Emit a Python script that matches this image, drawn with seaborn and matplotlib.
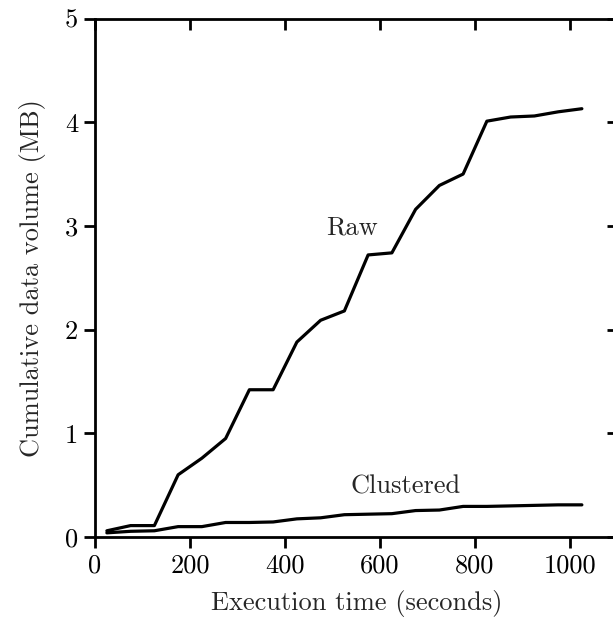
import matplotlib
matplotlib.use("Agg")
import matplotlib.pyplot as plt
import seaborn as sns
import pandas as pd

time_s = [25, 75, 125, 175, 225, 275, 325, 375, 425, 475, 525,
          575, 625, 675, 725, 775, 825, 875, 925, 975, 1025]
raw_mb = [0.06, 0.11, 0.11, 0.60, 0.76, 0.95, 1.42, 1.42, 1.88, 2.09, 2.18,
          2.72, 2.74, 3.16, 3.39, 3.50, 4.01, 4.05, 4.06, 4.10, 4.13]
clustered_mb = [0.04, 0.055, 0.06, 0.10, 0.10, 0.14, 0.14, 0.145, 0.175, 0.185, 0.215,
                0.22, 0.225, 0.255, 0.26, 0.295, 0.295, 0.30, 0.305, 0.31, 0.31]
x_ticks = [0, 200, 400, 600, 800, 1000]
y_ticks = [0, 1, 2, 3, 4, 5]

sns.set_style("ticks")
plt.rcParams["font.family"] = ["cmr10", "DejaVu Serif"]
plt.rcParams["axes.formatter.use_mathtext"] = True
plt.rcParams["mathtext.fontset"] = "cm"

df = pd.DataFrame({
    "time": time_s * 2,
    "mb": raw_mb + clustered_mb,
    "series": ["Raw"] * len(time_s) + ["Clustered"] * len(time_s),
})

fig = plt.figure(figsize=(6.13, 6.19), dpi=100)
ax = fig.add_axes([95 / 613, 82 / 619, (617.5 - 95) / 613, (537 - 18.5) / 619])

sns.lineplot(data=df, x="time", y="mb", units="series", estimator=None,
             color="black", linewidth=2.3, ax=ax, legend=False)

ax.set_xlim(0, 1100)
ax.set_ylim(0, 5)
ax.set_xticks(x_ticks)
ax.set_yticks(y_ticks)
ax.set_xticklabels([str(v) for v in x_ticks])
ax.set_yticklabels([str(v) for v in y_ticks])

for side in ["left", "bottom", "top", "right"]:
    ax.spines[side].set_visible(True)
    ax.spines[side].set_linewidth(2.0)
    ax.spines[side].set_color("black")

ax.tick_params(axis="both", which="major", direction="out", length=8, width=2,
               labelsize=19, pad=4, colors="black")
ax.tick_params(top=True, right=True)
for t in ax.xaxis.get_major_ticks():
    t.tick2line.set_marker(matplotlib.lines.TICKDOWN)
for t in ax.yaxis.get_major_ticks():
    t.tick2line.set_marker(matplotlib.lines.TICKLEFT)

ax.set_xlabel("Execution time (seconds)", fontsize=19, labelpad=9)
ax.set_ylabel("Cumulative data volume (MB)", fontsize=19, labelpad=14)

ax.text(541, 2.98, "Raw", fontsize=19, ha="center", va="center")
ax.text(653, 0.49, "Clustered", fontsize=19, ha="center", va="center")

fig.savefig("out.png", dpi=100)
